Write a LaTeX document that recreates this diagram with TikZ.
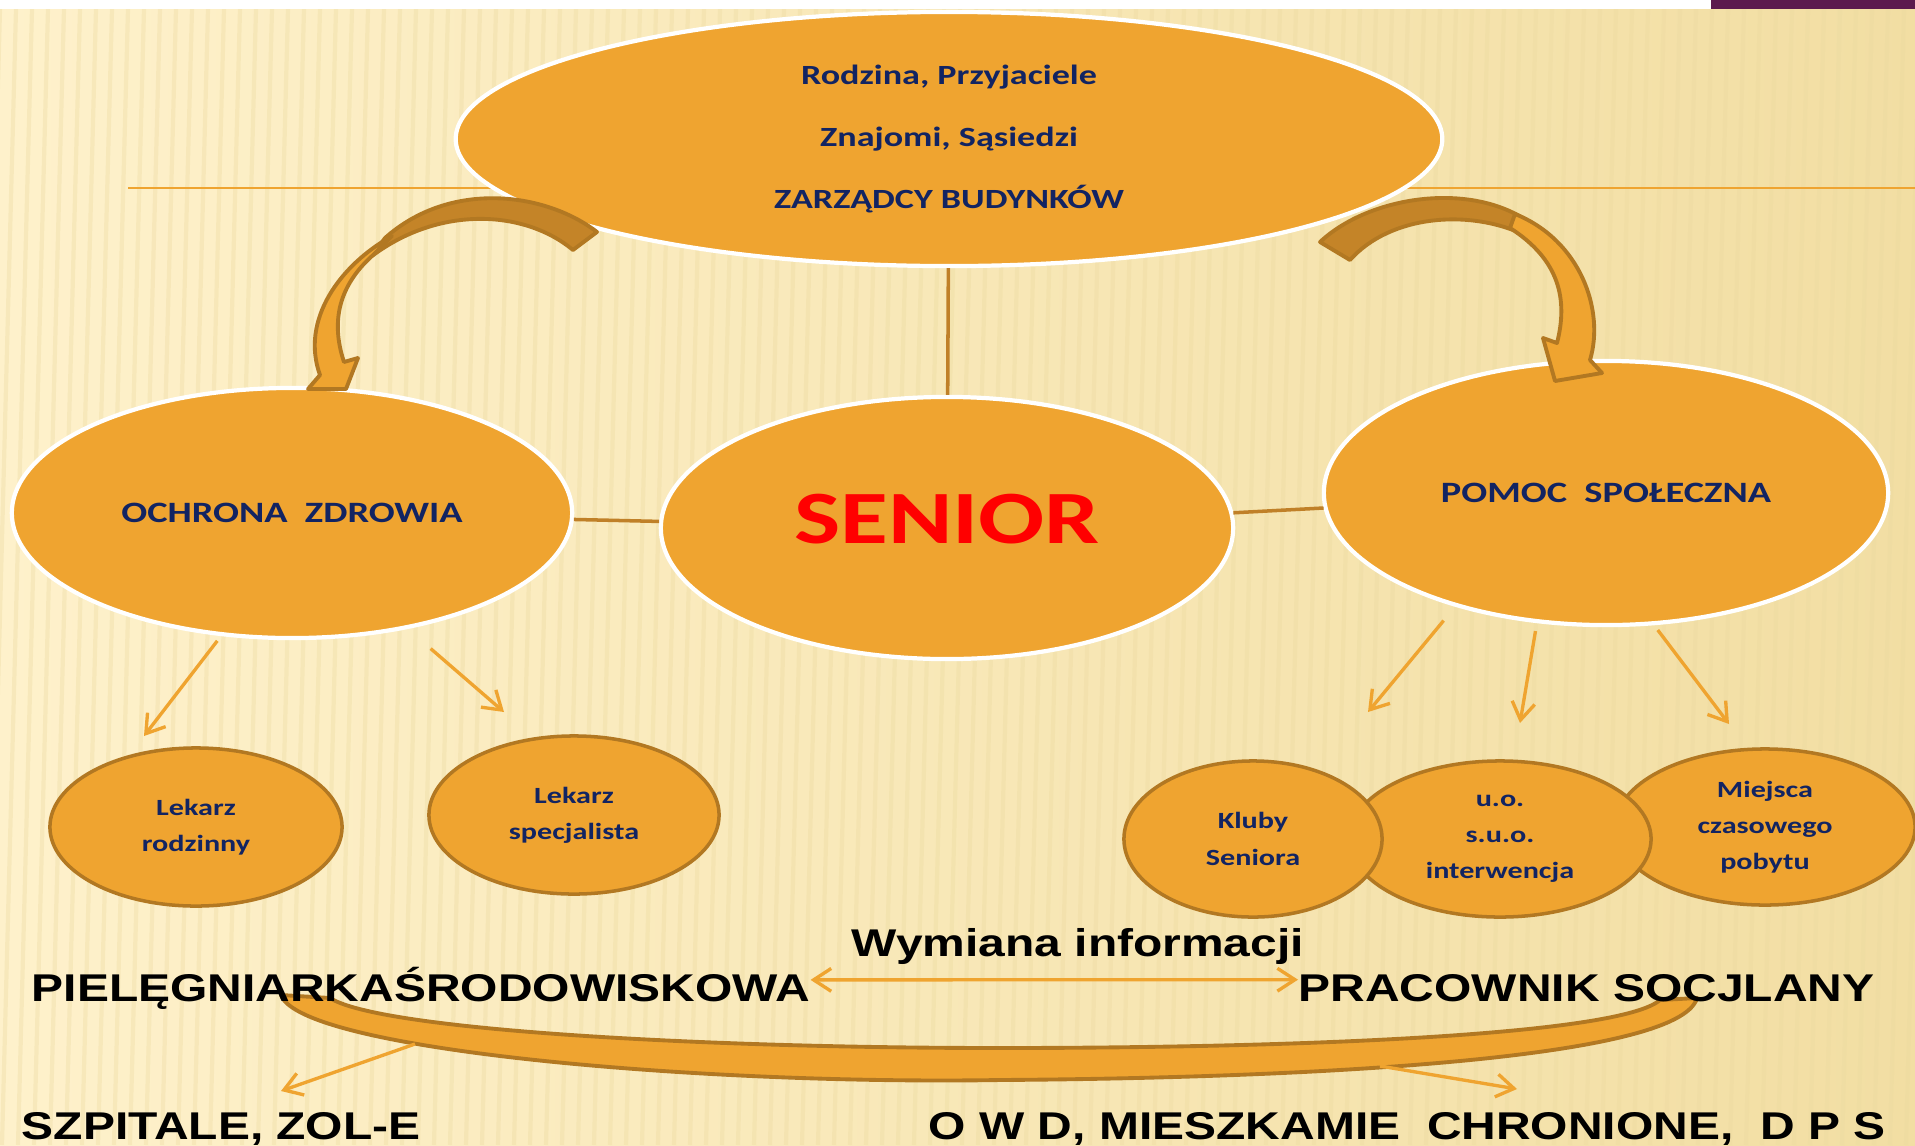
\documentclass[tikz,border=0pt]{standalone}
\usepackage{fontspec}
\setmainfont{Carlito}
\newfontfamily\ovalfont[FakeStretch=1.3]{Carlito}
\newfontfamily\slidefont[FakeStretch=1.24]{Liberation Sans}
\usepackage{tikz}
\usetikzlibrary{shapes.geometric, arrows.meta}

\definecolor{ovalfill}{RGB}{239,164,48}
\definecolor{ovaltext}{RGB}{18,36,98}
\definecolor{ovalrim}{RGB}{178,120,34}
\definecolor{linkbrown}{RGB}{192,128,40}
\definecolor{arcdark}{RGB}{196,132,40}
\definecolor{cream}{RGB}{254,241,203}
\definecolor{tan}{RGB}{242,222,163}
\definecolor{streak}{RGB}{236,218,160}
\definecolor{plum}{RGB}{92,26,78}

\tikzstyle{bigoval} = [ellipse, inner sep=0pt, fill=ovalfill, draw=white, line width=1.2pt, text=ovaltext]
\tikzstyle{smalloval} = [ellipse, inner sep=0pt, fill=ovalfill, draw=ovalrim, line width=1pt, text=ovaltext, align=center, font=\ovalfont\bfseries\fontsize{6.6}{10.3}\selectfont]
\tikzstyle{slidetext} = [inner sep=0pt, anchor=base west, font=\slidefont\bfseries\fontsize{11}{13}\selectfont]
\tikzstyle{link} = [draw=linkbrown, line width=1pt]
\tikzstyle{arrow} = [draw=ovalfill, line width=0.95pt, -{Straight Barb[length=5pt,width=6.5pt]}]
\tikzstyle{twoway} = [draw=ovalfill, line width=0.95pt, {Straight Barb[length=5pt,width=6.5pt]}-{Straight Barb[length=5pt,width=6.5pt]}]
\tikzstyle{curvetail} = [fill=arcdark, draw=ovalrim, line width=1.1pt, line join=round]
\tikzstyle{curvehead} = [fill=ovalfill, draw=ovalrim, line width=1.1pt, line join=round]

\begin{document}
\begin{tikzpicture}[x=0.01cm, y=-0.01cm]
        \useasboundingbox (0,0) rectangle (1915,1145);
        % slide background
        \shade[left color=cream, right color=tan] (0,9) rectangle (1915,1145);
        \foreach \x in {0,16,...,1950}
            \draw[streak, opacity=0.35, line width=1.2pt] (\x,9) -- (\x-30,1145);
        \fill[white] (0,0) rectangle (1915,9);
        \fill[plum] (1711,0) rectangle (1915,9);
        \draw[ovalfill, line width=0.8pt] (128,188) -- (1915,188);

        % ovals
        \node (top) [bigoval, minimum width=9.86cm, minimum height=2.54cm, align=center, font=\ovalfont\bfseries\fontsize{7.9}{17.6}\selectfont] at (949,139) {Rodzina, Przyjaciele\\Znajomi, Sąsiedzi\\ZARZĄDCY BUDYNKÓW};
        \node (senior) [bigoval, minimum width=5.72cm, minimum height=2.62cm, text=red, text depth=0.18cm, font=\ovalfont\bfseries\fontsize{21.4}{24}\selectfont] at (947,528) {SENIOR};
        \node (health) [bigoval, minimum width=5.6cm, minimum height=2.5cm, font=\ovalfont\bfseries\fontsize{8.4}{10}\selectfont] at (292,513) {OCHRONA\ \ ZDROWIA};
        \node (social) [bigoval, minimum width=5.64cm, minimum height=2.64cm, font=\ovalfont\bfseries\fontsize{8.4}{10}\selectfont] at (1606,493) {POMOC\ \ SPOŁECZNA};

        \draw [link] (top) -- (senior);
        \draw [link] (health) -- (senior);
        \draw [link] (senior) -- (social);

        \node (gp) [smalloval, minimum width=2.92cm, minimum height=1.58cm] at (196,827) {Lekarz\\rodzinny};
        \node (spec) [smalloval, minimum width=2.9cm, minimum height=1.58cm] at (574,815) {Lekarz\\specjalista};
        \node (stay) [smalloval, minimum width=3.0cm, minimum height=1.56cm] at (1765,827) {Miejsca\\czasowego\\pobytu};
        \node (care) [smalloval, minimum width=3.02cm, minimum height=1.56cm] at (1500,839) {u.o.\\s.u.o.\\interwencja};
        \node (clubs) [smalloval, minimum width=2.58cm, minimum height=1.56cm] at (1253,839) {Kluby\\Seniora};

        % thin arrows
        \coordinate (gp-tip) at (144,736);
        \coordinate (spec-tip) at (504,712);
        \coordinate (clubs-tip) at (1368,712);
        \coordinate (care-tip) at (1520,723);
        \coordinate (stay-tip) at (1729,724);
        \draw [arrow, shorten <=0.06cm] (health.240) -- (gp-tip);
        \draw [arrow, shorten <=0.3cm] (health.315) -- (spec-tip);
        \draw [arrow, shorten <=0.18cm] (social.217) -- (clubs-tip);
        \draw [arrow, shorten <=0.08cm] (social.242) -- (care-tip);
        \draw [arrow, shorten <=0.06cm] (social.290) -- (stay-tip);

        % curved block arrows
        \filldraw [curvetail] (597,232) .. controls (545,192) and (450,180) .. (385,238) -- (372,256) .. controls (440,205) and (525,210) .. (573,250) -- cycle;
        \filldraw [curvehead] (392,236) .. controls (340,265) and (300,320) .. (320,375) -- (308,389) -- (346,389) -- (358,358) -- (344,362) .. controls (330,320) and (340,285) .. (372,256) -- cycle;
        \filldraw [curvetail] (1320,242) .. controls (1370,195) and (1475,180) .. (1533,225) -- (1527,236) .. controls (1470,208) and (1390,215) .. (1350,260) -- cycle;
        \filldraw [curvehead] (1515,214) .. controls (1580,240) and (1605,310) .. (1590,360) -- (1602,373) -- (1555,381) -- (1543,338) -- (1557,343) .. controls (1568,300) and (1560,260) .. (1510,228) -- cycle;

        % band between the two workers
        \filldraw [curvehead] (281,995) .. controls (300,1050) and (700,1085) .. (1000,1080) .. controls (1300,1078) and (1680,1060) .. (1697,998) -- (1660,1000) .. controls (1620,1035) and (1300,1048) .. (1000,1048) .. controls (700,1048) and (380,1030) .. (330,998) -- cycle;
        \coordinate (band-left) at (415,1044);
        \coordinate (band-right) at (1380,1066);
        \coordinate (hosp-tip) at (281,1091);
        \coordinate (owd-tip) at (1517,1089);
        \draw [arrow] (band-left) -- (hosp-tip);
        \draw [arrow] (band-right) -- (owd-tip);

        % bottom texts
        \node (info) [slidetext] at (851,956) {Wymiana informacji};
        \node (nurse) [slidetext] at (31,1001) {PIELĘGNIARKAŚRODOWISKOWA};
        \node (worker) [slidetext] at (1298,1001) {PRACOWNIK SOCJLANY};
        \node (hosp) [slidetext] at (21,1139) {SZPITALE, ZOL-E};
        \node (owd) [slidetext] at (928,1139) {O W D, MIESZKAMIE\ \ CHRONIONE,\ \ D P S};
        \draw [twoway] ([yshift=0.08cm]nurse.east) -- ([yshift=0.08cm]worker.west);
    \end{tikzpicture}
\end{document}
